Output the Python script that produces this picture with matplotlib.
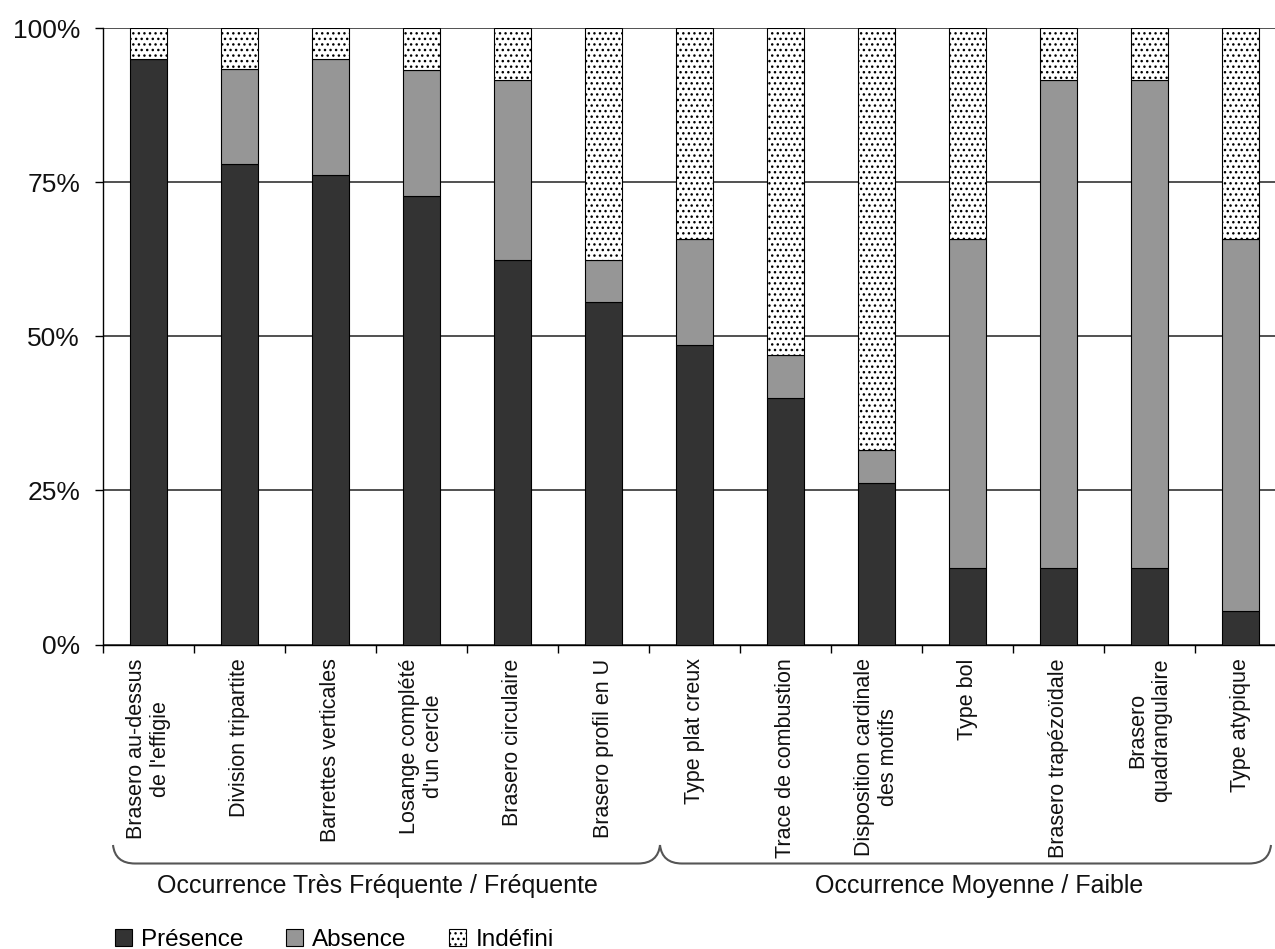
import matplotlib
matplotlib.use('Agg')
import matplotlib.pyplot as plt
from matplotlib.patches import Patch, PathPatch
from matplotlib.path import Path
import numpy as np

plt.rcParams['font.family'] = ['Liberation Sans', 'DejaVu Sans']
plt.rcParams['hatch.linewidth'] = 1.0

categories = [
    "Brasero au-dessus\nde l'effigie",
    "Division tripartite",
    "Barrettes verticales",
    "Losange complété\nd'un cercle",
    "Brasero circulaire",
    "Brasero profil en U",
    "Type plat creux",
    "Trace de combustion",
    "Disposition cardinale\ndes motifs",
    "Type bol",
    "Brasero trapézoïdale",
    "Brasero\nquadrangulaire",
    "Type atypique",
]
presence = [95.0, 78.0, 76.1, 72.8, 62.4, 55.5, 48.6, 40.0, 26.2, 12.4, 12.4, 12.4, 5.4]
absence = [0.0, 15.4, 18.9, 20.4, 29.2, 6.9, 17.2, 7.0, 5.3, 53.4, 79.2, 79.2, 60.4]
indefini = [5.0, 6.6, 5.0, 6.8, 8.4, 37.6, 34.2, 53.0, 68.5, 34.2, 8.4, 8.4, 34.2]
series_names = ["Présence", "Absence", "Indéfini"]
yticks = [0, 25, 50, 75, 100]
ytick_labels = ["0%", "25%", "50%", "75%", "100%"]
group_labels = ["Occurrence Très Fréquente / Fréquente", "Occurrence Moyenne / Faible"]

W, H = 1275, 949
fig = plt.figure(figsize=(W / 100, H / 100), dpi=100)

def fx(x):
    return x / W

def fy(y):
    return 1 - y / H

ax_left, ax_right, ax_top, ax_bot = 103, 1286, 28, 644.5
ax = fig.add_axes([fx(ax_left), fy(ax_bot), fx(ax_right - ax_left), (ax_bot - ax_top) / H])

x = np.arange(len(categories))
bw = 0.4
c_pres, c_abs = '#333333', '#969696'
ax.bar(x, presence, bw, color=c_pres, edgecolor='black', linewidth=0.8, zorder=3)
ax.bar(x, absence, bw, bottom=presence, color=c_abs, edgecolor='black', linewidth=0.8, zorder=3)
bottom2 = [p + a for p, a in zip(presence, absence)]
ax.bar(x, indefini, bw, bottom=bottom2, color='white', edgecolor='black', hatch='...',
       linewidth=0.8, zorder=3)

ax.set_xlim(-0.5, len(categories) - 0.5)
ax.set_ylim(0, 100)
ax.set_yticks(yticks)
ax.set_yticklabels(ytick_labels, fontsize=19)
ax.yaxis.grid(True, color='#222222', linewidth=1.1, zorder=0)
ax.set_axisbelow(True)
ax.tick_params(axis='y', length=6, width=1.0, pad=10.5, colors='black', labelcolor='#111111')

ax.set_xticks(x)
ax.set_xticklabels(categories, rotation=90, fontsize=15.5, va='top', ha='center',
                   multialignment='center')
ax.tick_params(axis='x', which='major', length=0, pad=10, labelcolor='#111111')
ax.set_xticks(np.arange(-0.5, len(categories), 1.0), minor=True)
ax.tick_params(axis='x', which='minor', length=5.5, width=1.0, direction='out', colors='black')

for s in ['top', 'right']:
    ax.spines[s].set_visible(False)
ax.spines['left'].set_linewidth(1.0)
ax.spines['bottom'].set_linewidth(1.0)

# Braces under the category labels
def brace(x0, x1, ytop, ybot, r=22):
    verts, codes = [], []
    verts += [(x0, ytop), (x0 + 2, ybot), (x0 + r, ybot)]
    codes += [Path.MOVETO, Path.CURVE3, Path.CURVE3]
    verts += [(x1 - r, ybot)]
    codes += [Path.LINETO]
    verts += [(x1 - 2, ybot), (x1, ytop)]
    codes += [Path.CURVE3, Path.CURVE3]
    verts = [(fx(a), fy(b)) for a, b in verts]
    return PathPatch(Path(verts, codes), transform=fig.transFigure, fill=False,
                     edgecolor='#555555', linewidth=1.5)

fig.add_artist(brace(113, 660, 845, 863.5))
fig.add_artist(brace(660, 1271, 845, 863.5))

fig.text(fx(157), fy(893), group_labels[0], fontsize=18, ha='left', va='baseline', color='#111111')
fig.text(fx(815), fy(893), group_labels[1], fontsize=18, ha='left', va='baseline', color='#111111')

handles = [
    Patch(facecolor=c_pres, edgecolor='black', linewidth=0.8),
    Patch(facecolor=c_abs, edgecolor='black', linewidth=0.8),
    Patch(facecolor='white', edgecolor='black', hatch='...', linewidth=0.8),
]
fig.legend(handles, series_names, loc='center left', bbox_to_anchor=(fx(115), fy(940)),
           ncol=3, frameon=False, fontsize=17.5, handlelength=0.7, handleheight=0.7,
           handletextpad=0.38, columnspacing=1.75, borderpad=0, borderaxespad=0)

fig.savefig('out.png', dpi=100)
